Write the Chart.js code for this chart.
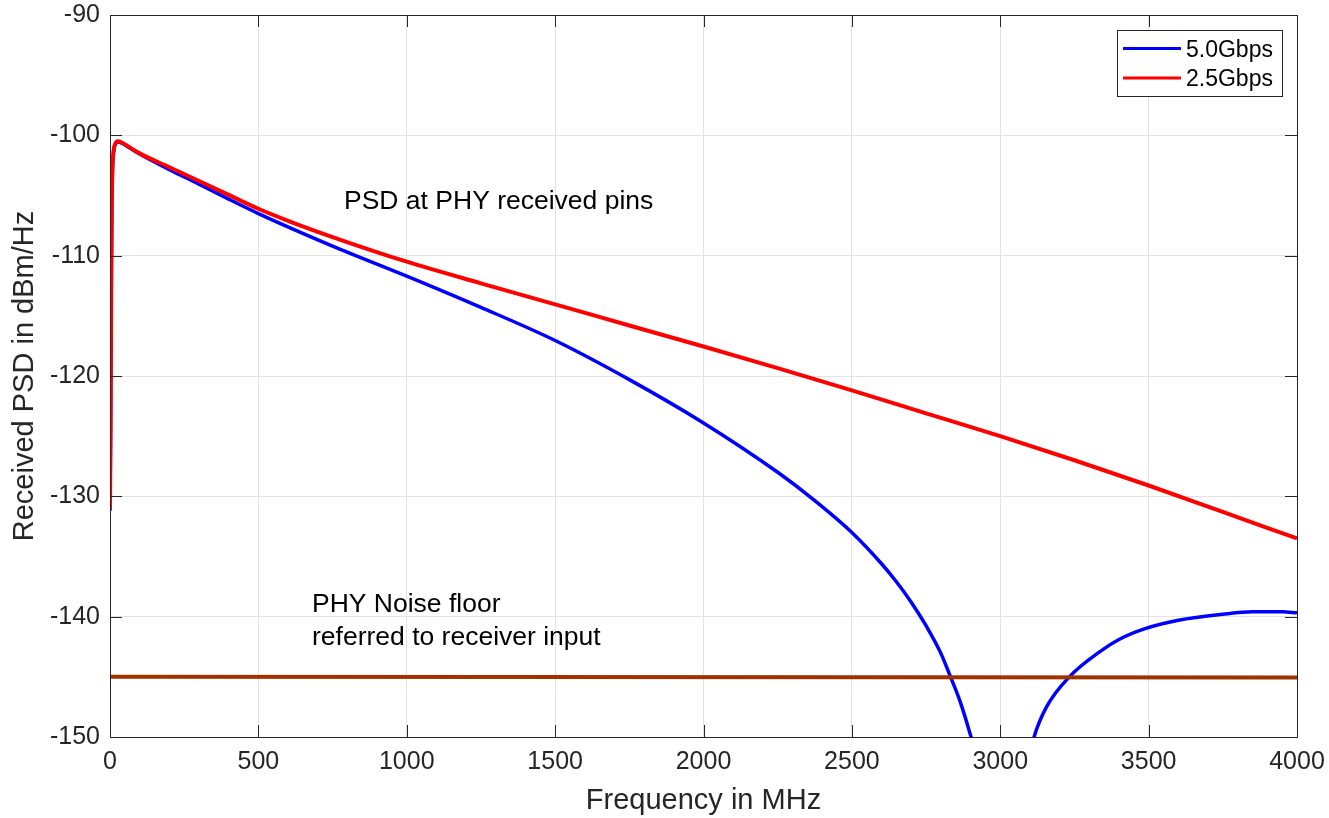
<!DOCTYPE html>
<html>
<head>
<meta charset="utf-8">
<title>Received PSD</title>
<script src="https://cdn.jsdelivr.net/npm/chart.js@4"></script>
<style>
  html, body { margin: 0; padding: 0; background: #fff; }
  #psdChart { display: block; }
</style>
</head>
<body>
<canvas id="psdChart" width="1329" height="818"></canvas>
<script>
// 5.0 Gbps PSD at the PHY pins (MHz, dBm/Hz); the null near 3 GHz drops below the axis
const freqBlue = [0, 2, 4, 6, 8, 12, 18, 27, 40, 60, 100, 200, 300, 400, 500, 750, 1000, 1250, 1500, 1750, 2000, 2250, 2375, 2500, 2600, 2650, 2700, 2750, 2800, 2829, 2864, 2898, 2950, 3000, 3060, 3114, 3156, 3233, 3336, 3400, 3488, 3600, 3750, 3850, 3950, 4000];
const psdBlue = [-131.2, -124.2, -113.2, -106.2, -103.1, -101.4, -100.75, -100.55, -100.65, -100.95, -101.55, -102.85, -104.05, -105.3, -106.5, -109.2, -111.7, -114.3, -117.05, -120.3, -123.9, -128.0, -130.35, -133.0, -135.6, -137.1, -138.8, -140.75, -143.05, -144.8, -147.0, -149.7, -154.5, -170.0, -156.0, -150.0, -147.5, -145.0, -142.9, -141.9, -141.0, -140.3, -139.8, -139.6, -139.6, -139.68];

// 2.5 Gbps PSD at the PHY pins
const freqRed = [0, 2, 4, 6, 8, 12, 18, 27, 40, 60, 100, 200, 300, 400, 500, 600, 750, 1000, 1250, 1500, 1750, 2000, 2250, 2500, 2750, 3000, 3250, 3500, 3750, 4000];
const psdRed = [-131, -124, -113, -106, -103, -101.3, -100.7, -100.5, -100.6, -100.9, -101.5, -102.65, -103.8, -104.95, -106.1, -107.1, -108.45, -110.5, -112.3, -114.05, -115.8, -117.55, -119.35, -121.2, -123.1, -125.0, -127.0, -129.1, -131.3, -133.5];

// PHY noise floor referred to the receiver input
const freqFloor = [0, 4000];
const psdFloor = [-145.0, -145.05];

const xTicks = [0, 500, 1000, 1500, 2000, 2500, 3000, 3500, 4000];
const yTicks = [-150, -140, -130, -120, -110, -100, -90];

const seriesNames = ['5.0Gbps', '2.5Gbps'];
const seriesColors = ['#0000ff', '#ff0000'];

const FONT = '"Liberation Sans", Arial, Helvetica, sans-serif';
const AXIS_COLOR = '#262626';

function toPoints(xs, ys) {
    return xs.map((x, i) => ({ x: x, y: ys[i] }));
}

// box round the plot with inward ticks on all four sides
const boxPlugin = {
    id: 'box',
    afterDatasetsDraw(chart) {
        const { ctx, chartArea: a, scales } = chart;
        const tl = 12;
        ctx.save();
        ctx.strokeStyle = AXIS_COLOR;
        ctx.lineWidth = 1;
        ctx.beginPath();
        xTicks.forEach(v => {
            const px = Math.round(scales.x.getPixelForValue(v)) + 0.5;
            ctx.moveTo(px, a.bottom); ctx.lineTo(px, a.bottom - tl);
            ctx.moveTo(px, a.top); ctx.lineTo(px, a.top + tl);
        });
        yTicks.forEach(v => {
            const py = Math.round(scales.y.getPixelForValue(v)) + 0.5;
            ctx.moveTo(a.left, py); ctx.lineTo(a.left + tl, py);
            ctx.moveTo(a.right, py); ctx.lineTo(a.right - tl, py);
        });
        ctx.stroke();
        ctx.strokeRect(Math.round(a.left) + 0.5, Math.round(a.top) + 0.5,
            Math.round(a.right - a.left), Math.round(a.bottom - a.top));
        ctx.restore();
    }
};

// text labels and the legend box in the upper right
const notesPlugin = {
    id: 'notes',
    afterDraw(chart) {
        const { ctx } = chart;
        ctx.save();
        ctx.fillStyle = '#000';
        ctx.textBaseline = 'alphabetic';
        ctx.textAlign = 'left';
        ctx.font = '26.5px ' + FONT;
        ctx.fillText('PSD at PHY received pins', 344, 209);
        ctx.fillText('PHY Noise floor', 312, 612);
        ctx.fillText('referred to receiver input', 312, 645);

        // legend
        const lx = 1117.5, ly = 30.5, lw = 165, lh = 66;
        ctx.fillStyle = '#fff';
        ctx.fillRect(lx, ly, lw, lh);
        ctx.strokeStyle = AXIS_COLOR;
        ctx.lineWidth = 1;
        ctx.strokeRect(lx, ly, lw, lh);
        ctx.font = '23px ' + FONT;
        seriesNames.forEach((name, i) => {
            const y = 48.5 + i * 29.5;
            ctx.strokeStyle = seriesColors[i];
            ctx.lineWidth = 3;
            ctx.beginPath();
            ctx.moveTo(1123, y);
            ctx.lineTo(1181, y);
            ctx.stroke();
            ctx.fillStyle = '#000';
            ctx.fillText(name, 1186, y + 8);
        });
        ctx.restore();
    }
};

const ctx = document.getElementById('psdChart').getContext('2d');

new Chart(ctx, {
    type: 'line',
    data: {
        datasets: [
            {
                label: seriesNames[0],
                data: toPoints(freqBlue, psdBlue),
                borderColor: seriesColors[0],
                borderWidth: 3.5,
                pointRadius: 0,
                cubicInterpolationMode: 'monotone',
                order: 3
            },
            {
                label: seriesNames[1],
                data: toPoints(freqRed, psdRed),
                borderColor: seriesColors[1],
                borderWidth: 4,
                pointRadius: 0,
                cubicInterpolationMode: 'monotone',
                order: 2
            },
            {
                label: 'Noise floor',
                data: toPoints(freqFloor, psdFloor),
                borderColor: '#a03200',
                borderWidth: 4,
                pointRadius: 0,
                order: 1
            }
        ]
    },
    options: {
        responsive: false,
        animation: false,
        events: [],
        layout: { padding: { left: 0, top: 15, right: 32, bottom: 0 } },
        plugins: {
            legend: { display: false },
            tooltip: { enabled: false }
        },
        scales: {
            x: {
                type: 'linear',
                min: 0,
                max: 4000,
                afterFit: s => {
                    s.height = 81;
                    s.paddingLeft = 0;
                    s.paddingRight = 0;
                },
                afterBuildTicks: s => { s.ticks = xTicks.map(v => ({ value: v })); },
                border: { display: false },
                grid: { color: '#e3e3e3', drawTicks: false },
                ticks: {
                    padding: 10,
                    color: AXIS_COLOR,
                    font: { family: FONT, size: 25 },
                    maxRotation: 0,
                    callback: v => String(v)
                },
                title: {
                    display: true,
                    text: 'Frequency in MHz',
                    color: AXIS_COLOR,
                    font: { family: FONT, size: 29 },
                    padding: 0
                }
            },
            y: {
                type: 'linear',
                min: -150,
                max: -90,
                afterFit: s => {
                    s.width = 110;
                    s.paddingTop = 0;
                    s.paddingBottom = 0;
                },
                afterBuildTicks: s => { s.ticks = yTicks.map(v => ({ value: v })); },
                border: { display: false },
                grid: { color: '#e3e3e3', drawTicks: false },
                ticks: {
                    padding: 10,
                    color: AXIS_COLOR,
                    font: { family: FONT, size: 25 },
                    callback: v => String(v)
                },
                title: {
                    display: true,
                    text: 'Received PSD in dBm/Hz',
                    color: AXIS_COLOR,
                    font: { family: FONT, size: 29 },
                    padding: { top: 8, bottom: 0 }
                }
            }
        }
    },
    plugins: [boxPlugin, notesPlugin]
});
</script>
</body>
</html>
